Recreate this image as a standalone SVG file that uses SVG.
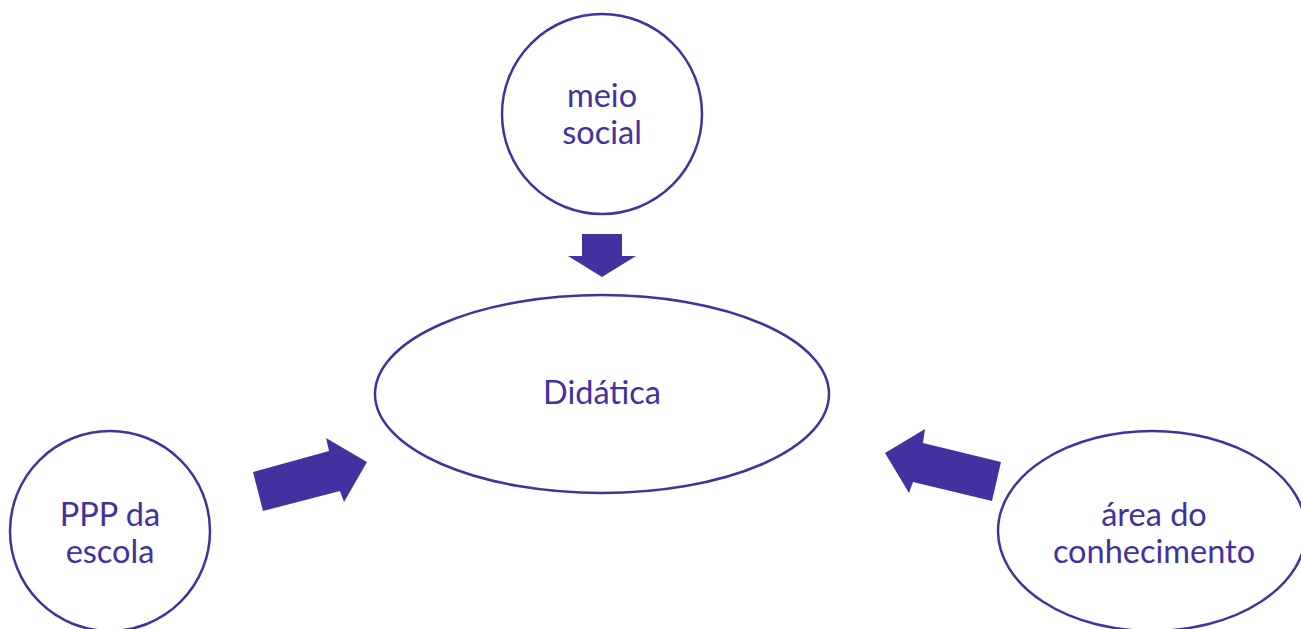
<svg xmlns="http://www.w3.org/2000/svg" width="1301" height="629" viewBox="0 0 1301 629">
<style>
.n{fill:#fff;stroke:#4331a0;stroke-width:2.5}
.t{font-family:Lato,"Noto Sans",sans-serif;font-size:32.5px;fill:#4331a0;text-anchor:middle}
.a{fill:#4331a0}
</style>
<rect width="1301" height="629" fill="#fff"/>
<g id="meio-social">
<circle class="n" cx="602" cy="114" r="100"/>
<text class="t" x="602" y="107">meio</text>
<text class="t" x="602" y="144">social</text>
</g>
<g id="didatica">
<ellipse class="n" cx="602" cy="394" rx="227" ry="99"/>
<text class="t" x="602" y="404">Didática</text>
</g>
<g id="ppp-escola">
<circle class="n" cx="110" cy="531" r="100"/>
<text class="t" x="110" y="526">PPP da</text>
<text class="t" x="110" y="563">escola</text>
</g>
<g id="area-conhecimento">
<ellipse class="n" cx="1152" cy="531" rx="154" ry="100"/>
<text class="t" x="1154" y="526">área do</text>
<text class="t" x="1154" y="563">conhecimento</text>
</g>
<g id="connectors">
<polygon class="a" points="582,234 622,234 622,256 636,256 602,277 568,256 582,256"/>
<polygon class="a" points="253,472 329,451 326,438 367,462 344,502 340,491 263,511"/>
<polygon class="a" points="885,453 925,429 923,443 1001,462 992,501 913,482 909,493"/>
</g>
</svg>
